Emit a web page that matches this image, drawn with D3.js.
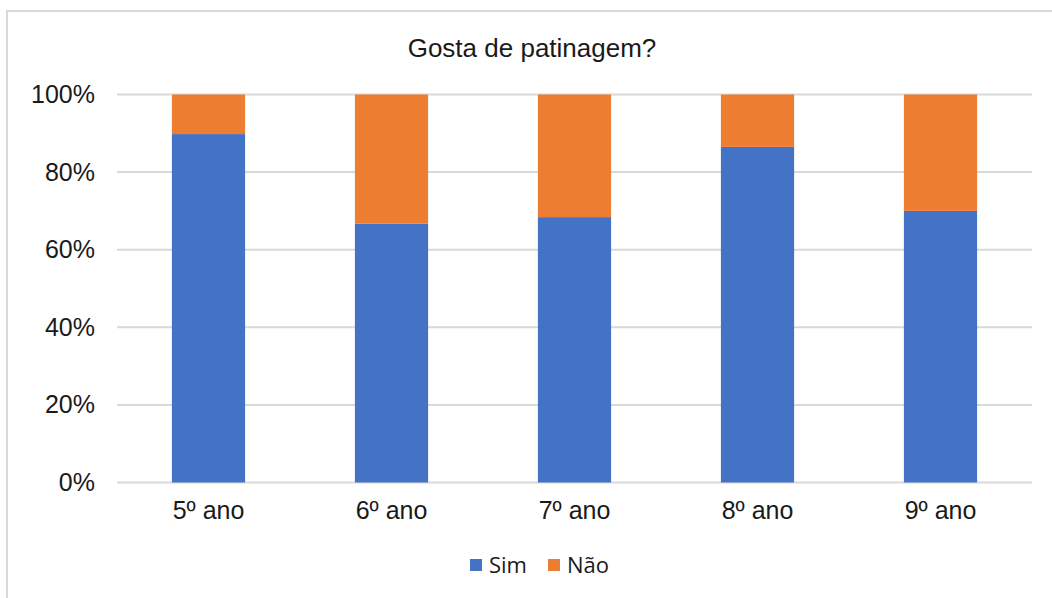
<!DOCTYPE html>
<html>
<head>
<meta charset="utf-8">
<script src="https://cdn.jsdelivr.net/npm/d3@7"></script>
<style>
  html, body { margin: 0; padding: 0; background: #fff; }
  svg { display: block; }
</style>
</head>
<body>
<svg id="chart" width="1052" height="598"></svg>
<script>
// Survey results: share of students per school year
const categories = ["5º ano", "6º ano", "7º ano", "8º ano", "9º ano"];
const sim = [0.898, 0.667, 0.684, 0.865, 0.70];
const nao = [0.102, 0.333, 0.316, 0.135, 0.30];
const seriesNames = ["Sim", "Não"];
const seriesColors = ["#4472C4", "#ED7D31"];
const yTicks = [0, 0.2, 0.4, 0.6, 0.8, 1.0];
const title = "Gosta de patinagem?";

const svg = d3.select("#chart");
const W = 1052, H = 598;
const font = "Liberation Sans, Arial, sans-serif";

// outer frame of the chart area
svg.append("rect")
  .attr("x", 7).attr("y", 11)
  .attr("width", W + 20).attr("height", H + 20)
  .attr("fill", "#fff")
  .attr("stroke", "#d9d9d9")
  .attr("stroke-width", 2);

const plot = { left: 117, right: 1032, top: 94.5, bottom: 482.5 };

const x = d3.scaleBand()
  .domain(categories)
  .range([plot.left, plot.right])
  .paddingInner(0.6)
  .paddingOuter(0.3);

const y = d3.scaleLinear()
  .domain([0, 1])
  .range([plot.bottom, plot.top]);

// gridlines
svg.append("g")
  .selectAll("line")
  .data(yTicks)
  .join("line")
  .attr("x1", plot.left).attr("x2", plot.right)
  .attr("y1", d => y(d)).attr("y2", d => y(d))
  .attr("stroke", "#d9d9d9")
  .attr("stroke-width", 2);

// stacked bars
const rows = categories.map((c, i) => ({ cat: c, Sim: sim[i], "Não": nao[i] }));
const stack = d3.stack().keys(seriesNames)(rows);

svg.append("g")
  .selectAll("g")
  .data(stack)
  .join("g")
  .attr("fill", (d, i) => seriesColors[i])
  .selectAll("rect")
  .data(d => d)
  .join("rect")
  .attr("x", d => x(d.data.cat))
  .attr("width", x.bandwidth())
  .attr("y", d => y(d[1]))
  .attr("height", d => y(d[0]) - y(d[1]));

// y axis labels
const yAxis = d3.axisLeft(y)
  .tickValues(yTicks)
  .tickFormat(d3.format(".0%"))
  .tickSize(0)
  .tickPadding(22);
const gy = svg.append("g")
  .attr("transform", `translate(${plot.left},0)`)
  .call(yAxis);
gy.select(".domain").remove();
gy.selectAll("text")
  .attr("font-family", font)
  .attr("font-size", 25)
  .attr("fill", "#1a1a1a");

// x axis labels
const xAxis = d3.axisBottom(x).tickSize(0).tickPadding(19);
const gx = svg.append("g")
  .attr("transform", `translate(0,${plot.bottom})`)
  .call(xAxis);
gx.select(".domain").remove();
gx.selectAll("text")
  .attr("font-family", font)
  .attr("font-size", 25)
  .attr("fill", "#1a1a1a");

// title
svg.append("text")
  .attr("x", 532)
  .attr("y", 57)
  .attr("text-anchor", "middle")
  .attr("font-family", font)
  .attr("font-size", 26)
  .attr("fill", "#1a1a1a")
  .text(title);

// legend
const legend = svg.append("g").attr("transform", "translate(470,565)");
const legendX = [0, 78];
seriesNames.forEach((name, i) => {
  const g = legend.append("g").attr("transform", `translate(${legendX[i]},0)`);
  g.append("rect")
    .attr("x", 0).attr("y", -6)
    .attr("width", 12).attr("height", 12)
    .attr("fill", seriesColors[i]);
  g.append("text")
    .attr("x", 19).attr("y", 0)
    .attr("dy", "0.35em")
    .attr("font-family", "Open Sans, sans-serif")
    .attr("font-size", 22)
    .attr("fill", "#1a1a1a")
    .text(name);
});
</script>
</body>
</html>
